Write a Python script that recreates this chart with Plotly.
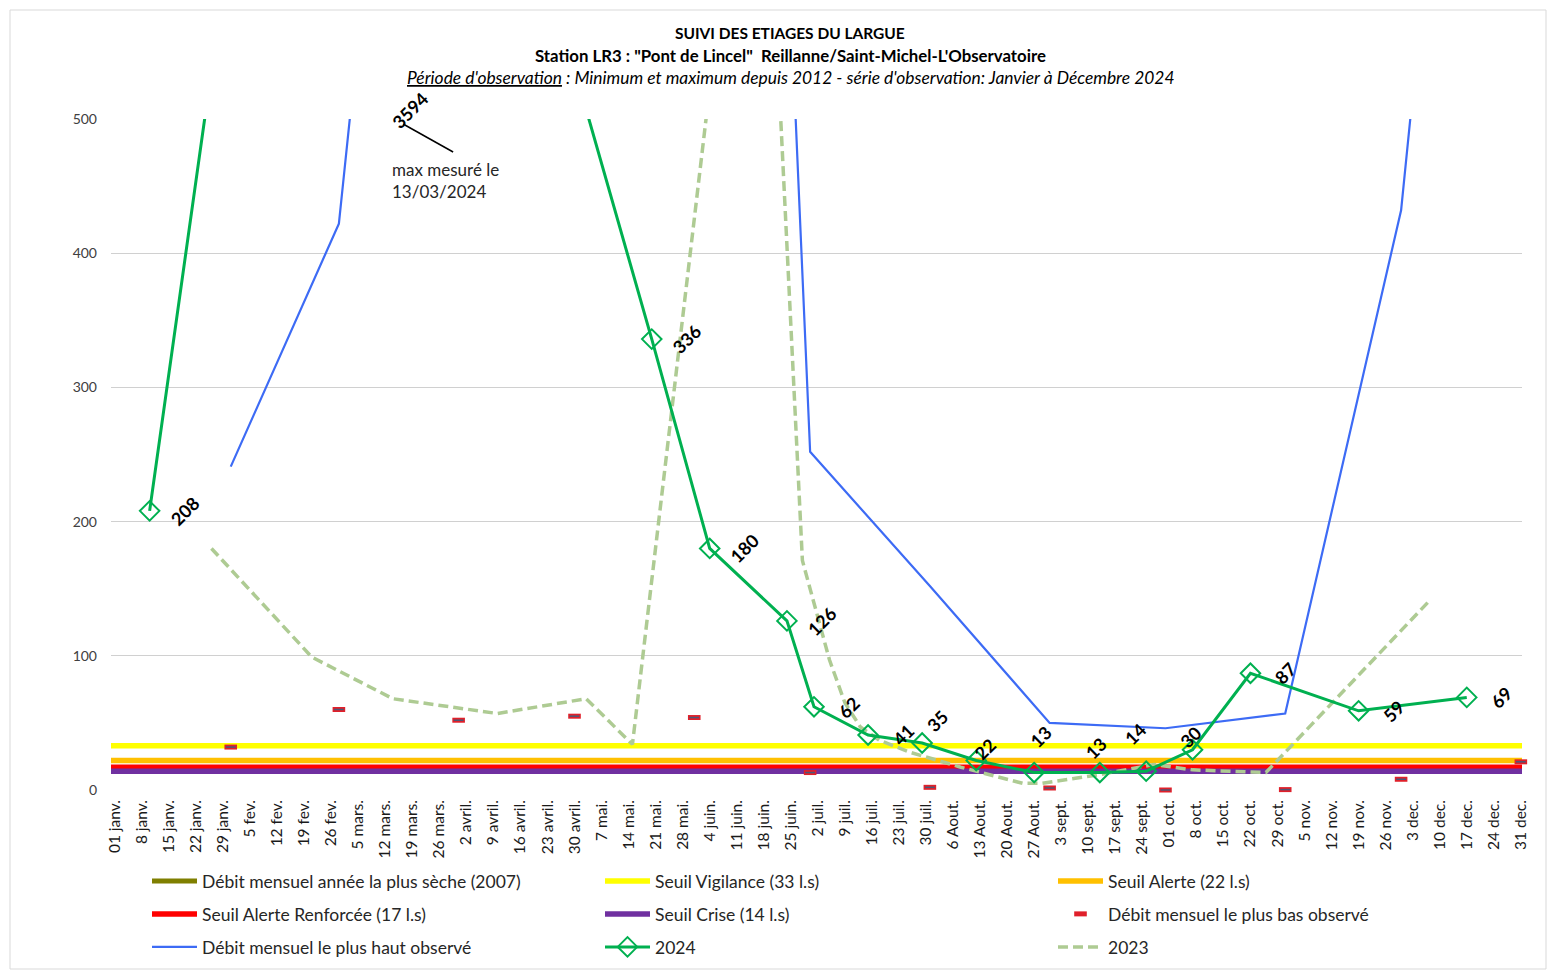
import plotly.graph_objects as go
import pandas as pd

# ---------------- data ----------------
REF_YEAR = 2023  # generic non-leap year used by the date axis

tick_labels = ["01 janv.", "8 janv.", "15 janv.", "22 janv.", "29 janv.", "5 fev.", "12 fev.", "19 fev.",
               "26 fev.", "5 mars.", "12 mars.", "19 mars.", "26 mars.", "2 avril.", "9 avril.", "16 avril.",
               "23 avril.", "30 avril.", "7 mai.", "14 mai.", "21 mai.", "28 mai.", "4 juin.", "11 juin.",
               "18 juin.", "25 juin.", "2 juil.", "9 juil.", "16 juil.", "23 juil.", "30 juil.", "6 Aout.",
               "13 Aout.", "20 Aout.", "27 Aout.", "3 sept.", "10 sept.", "17 sept.", "24 sept.", "01 oct.",
               "8 oct.", "15 oct.", "22 oct.", "29 oct.", "5 nov.", "12 nov.", "19 nov.", "26 nov.", "3 dec.",
               "10 dec.", "17 dec.", "24 dec.", "31 dec."]

month_ends = ["01-31", "02-28", "03-31", "04-30", "05-31", "06-30",
              "07-31", "08-31", "09-30", "10-31", "11-30", "12-31"]
low_observed = [32, 60, 52, 55, 54, 13, 2, 1.5, 0, 0.3, 8, 21]
high_observed = [241, 422, 1280, 1900, 2240, 252, 152, 50, 46, 57, 432, 1320]

dates_2024 = ["01-10", "02-07", "03-13", "04-22", "05-20", "06-04", "06-24", "07-01", "07-15",
              "07-29", "08-12", "08-27", "09-13", "09-25", "10-07", "10-22", "11-19", "12-17"]
flow_2024 = [208, 782, 3594, 618, 336, 180, 126, 62, 41, 35, 22, 13, 13, 14, 30, 87, 59, 69]

dates_2023 = ["01-26", "02-21", "03-14", "04-10", "05-03", "05-15", "06-10", "06-20", "06-28",
              "07-05", "07-09", "07-13", "07-18", "07-26", "08-08", "08-17", "08-24", "08-29",
              "09-12", "09-27", "10-07", "10-26", "12-07"]
flow_2023 = [180, 99, 68, 57, 68, 34, 670, 640, 171, 97, 65, 47, 37, 28, 17, 10, 5, 5,
             11, 19, 15, 13, 140]

thresholds = {
    "Seuil Vigilance (33 l.s)": (33, "#FFFF00"),
    "Seuil Alerte (22 l.s)": (22, "#FFC000"),
    "Seuil Alerte Renforcée (17 l.s)": (17, "#FF0000"),
    "Seuil Crise (14 l.s)": (14, "#7030A0"),
}

# ---------------- helpers ----------------
def day_index(mmdd):
    d = pd.Timestamp(f"{REF_YEAR}-{mmdd}")
    return int(d.dayofyear) - 1

x_low_high = [day_index(d) for d in month_ends]
x_2024 = [day_index(d) for d in dates_2024]
x_2023 = [day_index(d) for d in dates_2023]
tick_vals = list(range(0, 365, 7))

X_RANGE = [-1, 364.3]
Y_RANGE = [0, 500]
FONT = "Lato, 'Open Sans', sans-serif"

# plot area in pixels
W, H = 1555, 973
L, R, T, B = 111, 1522, 119, 790
def px_x(p):
    return (p - L) / (R - L)
def px_y(p):
    return (B - p) / (B - T)

fig = go.Figure()

# 2007 driest year (legend entry)
fig.add_trace(go.Scatter(x=[None], y=[None], mode="lines", name="Débit mensuel année la plus sèche (2007)",
                         line=dict(color="#7F7F00", width=5), legend="legend"))

# threshold lines
for i, (name, (val, col)) in enumerate(thresholds.items()):
    fig.add_trace(go.Scatter(x=X_RANGE, y=[val, val], mode="lines", name=name,
                             line=dict(color=col, width=5.5), hoverinfo="skip",
                             legend="legend" if i < 2 else "legend2"))

# monthly lowest observed
fig.add_trace(go.Scatter(x=x_low_high, y=low_observed, mode="markers", name="Débit mensuel le plus bas observé",
                         marker=dict(symbol="line-ew", size=9, line=dict(color="#E0202A", width=5)),
                         cliponaxis=False, legend="legend2"))
fig.add_trace(go.Scatter(x=x_low_high, y=low_observed, mode="markers", showlegend=False,
                         marker=dict(symbol="line-ew", size=7, line=dict(color="#4A5878", width=1.5)),
                         cliponaxis=False, hoverinfo="skip"))

# monthly highest observed
fig.add_trace(go.Scatter(x=x_low_high, y=high_observed, mode="lines", name="Débit mensuel le plus haut observé",
                         line=dict(color="#3D6BF5", width=2.2), legend="legend3"))

# 2023
fig.add_trace(go.Scatter(x=x_2023, y=flow_2023, mode="lines", name="2023",
                         line=dict(color="#AECB93", width=3.5, dash="10px,5px"),
                         legend="legend3", legendrank=1003))

# 2024
fig.add_trace(go.Scatter(x=x_2024, y=flow_2024, mode="lines+markers", name="2024",
                         line=dict(color="#00B050", width=3),
                         marker=dict(symbol="diamond-open", size=15, color="#00B050", line=dict(width=2)),
                         legend="legend3", legendrank=1002))

# 2024 data labels (only for points inside the plotted range)
label_shift = {"07-29": (15, 22), "08-12": (9, 11), "08-27": (6, 36),
               "09-13": (-4, 25), "09-25": (-11, 37), "10-07": (-2, 13)}
for d, xv, yv in zip(dates_2024, x_2024, flow_2024):
    if yv > Y_RANGE[1]:
        continue
    dx, dy = label_shift.get(d, (35, 0))
    fig.add_annotation(x=xv, y=yv, text=f"<b>{yv}</b>", showarrow=False, textangle=-45,
                       xshift=dx, yshift=dy, font=dict(family=FONT, size=18, color="#000000"))

# label of the off-chart maximum
i_max = flow_2024.index(max(flow_2024))
fig.add_annotation(x=x_2024[i_max], y=Y_RANGE[1], text=f"<b>{flow_2024[i_max]}</b>", showarrow=False,
                   textangle=-45, xshift=21, yshift=9, font=dict(family=FONT, size=18, color="#000000"))
fig.add_shape(type="line", xref="x", yref="y", xsizemode="pixel", ysizemode="pixel",
              xanchor=x_2024[i_max], yanchor=Y_RANGE[1], x0=14, y0=-5, x1=64, y1=-33,
              line=dict(color="#000000", width=1.5))
fig.add_annotation(x=x_2024[i_max], y=Y_RANGE[1], text="max mesuré le<br>13/03/2024", showarrow=False,
                   xanchor="left", yanchor="top", align="left", xshift=1, yshift=-38,
                   font=dict(family=FONT, size=17, color="#262626"))

# titles
title_lines = [
    ("<b>SUIVI DES ETIAGES DU LARGUE</b>", 33, 15.5),
    ("<b>Station LR3 : \"Pont de Lincel\"  Reillanne/Saint-Michel-L'Observatoire</b>", 55, 16.8),
    ("<i><u>Période d'observation</u> : Minimum et maximum depuis 2012 - série d'observation: Janvier à Décembre 2024</i>", 77, 17.4),
]
for txt, ypx, fs in title_lines:
    fig.add_annotation(xref="paper", yref="paper", x=px_x(790), y=px_y(ypx), text=txt, showarrow=False,
                       xanchor="center", yanchor="middle", font=dict(family=FONT, size=fs, color="#000000"))

# chart border
fig.add_shape(type="rect", xref="paper", yref="paper", x0=px_x(10), x1=px_x(1546), y0=px_y(969), y1=px_y(10),
              line=dict(color="#D9D9D9", width=1), layer="below")

legend_common = dict(orientation="h", xanchor="left", yanchor="middle", entrywidth=393,
                     entrywidthmode="pixels", itemwidth=45, font=dict(family=FONT, size=17.5, color="#262626"),
                     bgcolor="rgba(0,0,0,0)", traceorder="normal", itemclick=False, itemdoubleclick=False)

fig.update_layout(
    width=W, height=H,
    margin=dict(l=L, r=W - R, t=T, b=H - B, autoexpand=False),
    plot_bgcolor="white", paper_bgcolor="white",
    font=dict(family=FONT, color="#404040"),
    legend=dict(legend_common, x=px_x(147), y=px_y(881)),
    legend2=dict(legend_common, x=px_x(147), y=px_y(914)),
    legend3=dict(legend_common, x=px_x(147), y=px_y(947)),
    xaxis=dict(range=X_RANGE, tickmode="array", tickvals=tick_vals, ticktext=tick_labels, tickangle=-90,
               showgrid=False, zeroline=False, showline=False, ticks="", ticklabelstandoff=6,
               tickfont=dict(family=FONT, size=15.5, color="#1A1A1A"), automargin=False, fixedrange=True),
    yaxis=dict(range=Y_RANGE, tickmode="array", tickvals=[0, 100, 200, 300, 400, 500],
               showgrid=True, gridcolor="#D0D0D0", gridwidth=1.3, zeroline=False, showline=False,
               ticks="", ticklabelstandoff=13, tickfont=dict(family=FONT, size=14, color="#404040"),
               automargin=False, fixedrange=True),
    showlegend=True,
)

fig.write_html("out.html", config={"displayModeBar": False},
               post_script="document.body.style.margin='0';document.body.style.overflow='hidden';")
